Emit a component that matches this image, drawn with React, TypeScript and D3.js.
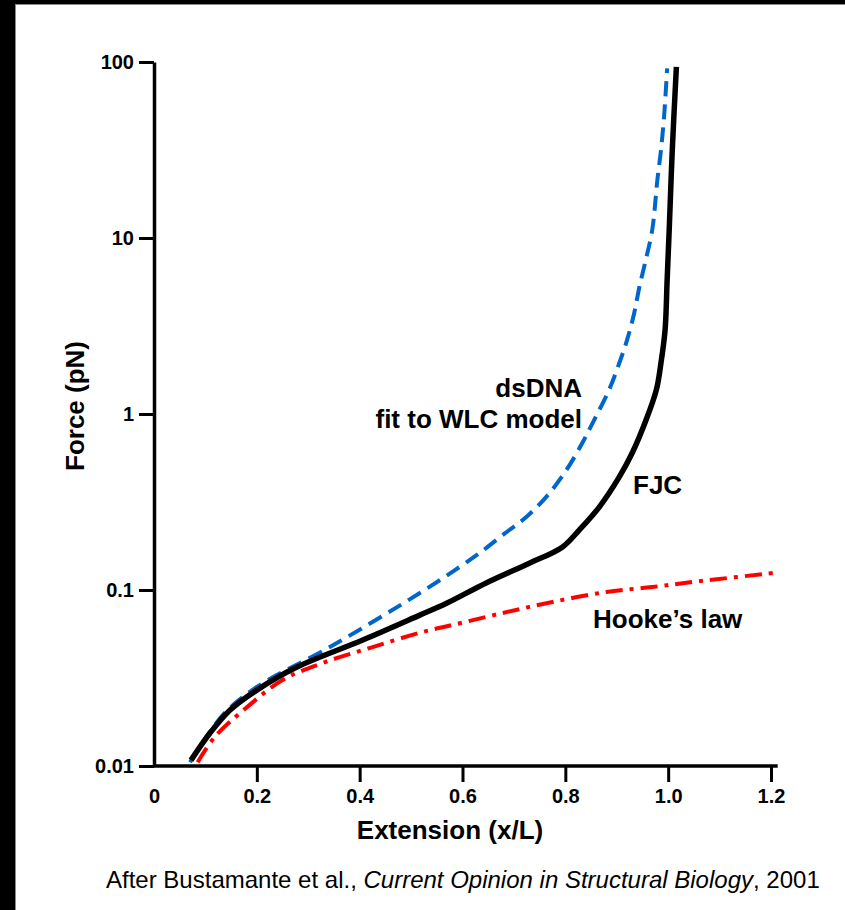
import { useEffect, useRef } from 'react';
import * as d3 from 'd3';

// FJC (freely jointed chain) curve
const fjcExt = [0.072, 0.109, 0.148, 0.2, 0.278, 0.406, 0.517, 0.569, 0.647, 0.73, 0.794, 0.827, 0.866, 0.905, 0.93, 0.957, 0.977, 0.986, 0.994, 0.998, 1.002, 1.008, 1.016];
const fjcForce = [0.0108, 0.0154, 0.0208, 0.027, 0.0365, 0.052, 0.072, 0.084, 0.11, 0.142, 0.175, 0.219, 0.296, 0.439, 0.6, 0.924, 1.37, 1.95, 3.0, 5.77, 11.1, 31.6, 93.7];

// dsDNA fit to WLC model
const wlcExt = [0.07, 0.134, 0.2, 0.342, 0.517, 0.594, 0.633, 0.678, 0.724, 0.763, 0.802, 0.833, 0.856, 0.885, 0.905, 0.92, 0.934, 0.944, 0.955, 0.969, 0.979, 0.986, 0.992, 0.998];
const wlcForce = [0.0105, 0.0195, 0.0281, 0.0474, 0.0961, 0.135, 0.162, 0.205, 0.26, 0.338, 0.48, 0.684, 0.924, 1.37, 1.95, 2.63, 3.75, 5.27, 7.21, 11.1, 21.4, 31.6, 48.7, 92];

// Hooke's law
const hookeExt = [0.085, 0.118, 0.181, 0.25, 0.328, 0.419, 0.522, 0.581, 0.678, 0.775, 0.88, 0.969, 1.047, 1.206];
const hookeForce = [0.0105, 0.0146, 0.0216, 0.0308, 0.0385, 0.0468, 0.0577, 0.0633, 0.074, 0.0855, 0.0975, 0.104, 0.111, 0.125];

const xTicks = [0, 0.2, 0.4, 0.6, 0.8, 1.0, 1.2];
const xTickLabels = ['0', '0.2', '0.4', '0.6', '0.8', '1.0', '1.2'];
const yTicks = [0.01, 0.1, 1, 10, 100];
const yTickLabels = ['0.01', '0.1', '1', '10', '100'];

const W = 845;
const H = 910;
const font = '"Liberation Sans", Arial, Helvetica, sans-serif';

const App = () => {
  const svgRef = useRef<SVGSVGElement>(null);

  useEffect(() => {
    document.body.style.margin = '0';
    const svg = d3.select(svgRef.current);
    svg.selectAll('*').remove();

    const x = d3.scaleLinear().domain([0, 1.2]).range([154, 771]);
    const y = d3.scaleLog().domain([0.01, 100]).range([766, 62]);

    // black frame band (top and left) like the slide
    svg.append('rect').attr('x', 0).attr('y', 0).attr('width', W).attr('height', 4).attr('fill', '#000');
    svg.append('rect').attr('x', 0).attr('y', 0).attr('width', 15).attr('height', H).attr('fill', '#000');
    svg.append('line').attr('x1', 15.5).attr('x2', 15.5).attr('y1', 4).attr('y2', H).attr('stroke', '#888').attr('stroke-width', 1);
    svg.append('line').attr('x1', 15).attr('x2', W).attr('y1', 4.5).attr('y2', 4.5).attr('stroke', '#888').attr('stroke-width', 1);

    // curves
    const line = d3
      .line<[number, number]>()
      .x(d => x(d[0]))
      .y(d => y(d[1]))
      .curve(d3.curveCatmullRom.alpha(0.5));

    const series = [
      { ext: hookeExt, force: hookeForce, color: '#ff0000', width: 4, dash: '17,7,4,7' },
      { ext: wlcExt, force: wlcForce, color: '#0066cc', width: 4, dash: '15,8' },
      { ext: fjcExt, force: fjcForce, color: '#000000', width: 5.5, dash: null },
    ];

    series.forEach(s => {
      const pts = s.ext.map((e, i) => [e, s.force[i]] as [number, number]);
      svg
        .append('path')
        .attr('d', line(pts))
        .attr('fill', 'none')
        .attr('stroke', s.color)
        .attr('stroke-width', s.width)
        .attr('stroke-dasharray', s.dash)
        .attr('stroke-linejoin', 'round');
    });

    // y axis
    const yAxis = d3
      .axisLeft(y)
      .tickValues(yTicks)
      .tickFormat((d, i) => yTickLabels[i])
      .tickSize(15)
      .tickSizeOuter(0)
      .tickPadding(5);

    const gy = svg.append('g').attr('transform', `translate(${x(0)},0)`).call(yAxis);
    gy.select('.domain').attr('stroke', '#000').attr('stroke-width', 3.5);
    gy.selectAll('.tick line').attr('stroke', '#000').attr('stroke-width', 3);
    gy.selectAll('.tick text')
      .attr('font-family', font)
      .attr('font-weight', 'bold')
      .attr('font-size', 20)
      .attr('fill', '#000');

    // x axis
    const xAxis = d3
      .axisBottom(x)
      .tickValues(xTicks)
      .tickFormat((d, i) => xTickLabels[i])
      .tickSize(16)
      .tickSizeOuter(0)
      .tickPadding(7);

    const gx = svg.append('g').attr('transform', `translate(0,${y(0.01)})`).call(xAxis);
    gx.select('.domain').remove();
    gx.append('line')
      .attr('x1', x(0))
      .attr('x2', x(1.213))
      .attr('stroke', '#000')
      .attr('stroke-width', 3.5);
    gx.selectAll('.tick line')
      .attr('stroke', '#000')
      .attr('stroke-width', 3)
      .attr('display', (d: any) => (d === 0 ? 'none' : null));
    gx.selectAll('.tick text')
      .attr('font-family', font)
      .attr('font-weight', 'bold')
      .attr('font-size', 20)
      .attr('fill', '#000');

    // axis titles
    svg
      .append('text')
      .attr('x', 450)
      .attr('y', 839)
      .attr('text-anchor', 'middle')
      .attr('font-family', font)
      .attr('font-weight', 'bold')
      .attr('font-size', 26)
      .text('Extension (x/L)');

    svg
      .append('text')
      .attr('transform', 'translate(84,406) rotate(-90)')
      .attr('text-anchor', 'middle')
      .attr('font-family', font)
      .attr('font-weight', 'bold')
      .attr('font-size', 26)
      .text('Force (pN)');

    // curve labels
    const labels = [
      { text: 'dsDNA', x: 582, y: 397, anchor: 'end' },
      { text: 'fit to WLC model', x: 582, y: 428, anchor: 'end' },
      { text: 'FJC', x: 633, y: 494, anchor: 'start' },
      { text: 'Hooke\u2019s law', x: 593, y: 628, anchor: 'start' },
    ];
    svg
      .selectAll('text.lab')
      .data(labels)
      .enter()
      .append('text')
      .attr('class', 'lab')
      .attr('x', d => d.x)
      .attr('y', d => d.y)
      .attr('text-anchor', d => d.anchor)
      .attr('font-family', font)
      .attr('font-weight', 'bold')
      .attr('font-size', 26)
      .text(d => d.text);

    // source caption
    const cap = svg
      .append('text')
      .attr('x', 106)
      .attr('y', 888)
      .attr('font-family', font)
      .attr('font-size', 24)
      .attr('fill', '#000');
    cap.append('tspan').text('After Bustamante et al., ');
    cap.append('tspan').attr('font-style', 'italic').text('Current Opinion in Structural Biology');
    cap.append('tspan').text(', 2001');
  }, []);

  return <svg ref={svgRef} width={W} height={H} style={{ display: 'block', background: '#fff' }} />;
};

export default App;
